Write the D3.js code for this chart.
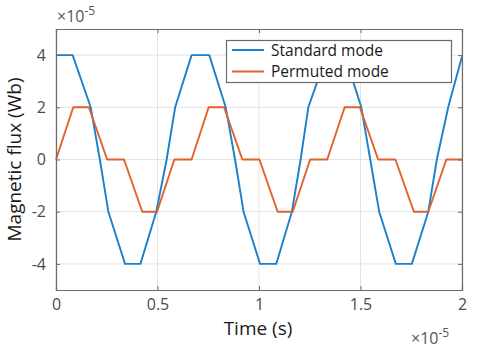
<!DOCTYPE html>
<html>
<head>
<meta charset="utf-8">
<script src="https://cdn.jsdelivr.net/npm/d3@7"></script>
<style>
html,body{margin:0;padding:0;background:#fff;}
svg{display:block;font-family:"Open Sans",sans-serif;}
</style>
</head>
<body>
<svg id="chart" width="480" height="351"></svg>
<script>
// Time (×1e-5 s) and flux (×1e-5 Wb) vertices
const standardTime = [0,0.082,0.171,0.216,0.258,0.340,0.416,0.494,0.545,0.587,0.668,0.755,0.836,0.882,0.924,1.005,1.085,1.162,1.205,1.243,1.333,1.422,1.504,1.548,1.592,1.674,1.753,1.834,1.876,1.932,2.0];
const standardFlux = [4,4,2,0,-2,-4,-4,-2,0,2,4,4,2,0,-2,-4,-4,-2,0,2,4,4,2,0,-2,-4,-4,-2,0,2,3.95];
const permutedTime = [0,0.085,0.162,0.252,0.335,0.425,0.498,0.583,0.668,0.752,0.828,0.918,1.002,1.092,1.166,1.252,1.336,1.422,1.497,1.587,1.672,1.763,1.834,1.923,2.0];
const permutedFlux = [0,2,2,0,0,-2,-2,0,0,2,2,0,0,-2,-2,0,0,2,2,0,0,-2,-2,0,0];
const xTicks = [0,0.5,1,1.5,2];
const xTickLabels = ["0","0.5","1","1.5","2"];
const yTicks = [-4,-2,0,2,4];
const yTickLabels = ["-4","-2","0","2","4"];
const seriesNames = ["Standard mode","Permuted mode"];
const seriesColors = ["#1a80cc","#e0622a"];

const svg = d3.select("#chart");
const L = 56, R = 462, T = 29, B = 290;
const x = d3.scaleLinear().domain([0,2]).range([L,R]);
const y = d3.scaleLinear().domain([-5,5]).range([B,T]);

// grid
const g = svg.append("g");
g.selectAll(".gx").data(xTicks).enter().append("line")
  .attr("x1",d=>x(d)).attr("x2",d=>x(d)).attr("y1",T).attr("y2",B)
  .attr("stroke","#e3e3e3").attr("stroke-width",1);
g.selectAll(".gy").data(yTicks).enter().append("line")
  .attr("y1",d=>y(d)).attr("y2",d=>y(d)).attr("x1",L).attr("x2",R)
  .attr("stroke","#e3e3e3").attr("stroke-width",1);

// series
const series = [
  standardTime.map((t,i)=>[t,standardFlux[i]]),
  permutedTime.map((t,i)=>[t,permutedFlux[i]])
];
const line = d3.line().x(d=>x(d[0])).y(d=>y(d[1]));
series.forEach((s,i)=>{
  svg.append("path").datum(s).attr("d",line)
    .attr("fill","none").attr("stroke",seriesColors[i]).attr("stroke-width",1.9)
    .attr("stroke-linejoin","round");
});

// axes
const axColor = "#6b6b6b";
const xAxis = svg.append("g").attr("transform",`translate(0,${B})`)
  .call(d3.axisBottom(x).tickValues(xTicks).tickFormat((d,i)=>xTickLabels[i]).tickSize(-4).tickPadding(9));
const xAxisTop = svg.append("g").attr("transform",`translate(0,${T})`)
  .call(d3.axisTop(x).tickValues(xTicks).tickFormat("").tickSize(-4));
const yAxis = svg.append("g").attr("transform",`translate(${L},0)`)
  .call(d3.axisLeft(y).tickValues(yTicks).tickFormat((d,i)=>yTickLabels[i]).tickSize(-4).tickPadding(10));
const yAxisR = svg.append("g").attr("transform",`translate(${R},0)`)
  .call(d3.axisRight(y).tickValues(yTicks).tickFormat("").tickSize(-4));
[xAxis,xAxisTop,yAxis,yAxisR].forEach(a=>{
  a.select(".domain").attr("stroke",axColor).attr("stroke-width",1.2);
  a.selectAll(".tick line").attr("stroke",axColor);
  a.selectAll(".tick text").attr("fill","#4a4a4a").attr("font-size",16).attr("font-family","Open Sans, sans-serif");
});

// exponent labels
function expLabel(xp, yp){
  const t = svg.append("text").attr("x",xp).attr("y",yp).attr("fill","#555").attr("font-size",16);
  t.append("tspan").text("×10");
  t.append("tspan").attr("dy",-7).attr("font-size",12).text("-5");
}
expLabel(57,22);
expLabel(411,344);

// axis titles
svg.append("text").attr("x",(L+R)/2-1).attr("y",335).attr("text-anchor","middle")
  .attr("font-size",19).attr("fill","#1a1a1a").text("Time (s)");
svg.append("text").attr("transform",`translate(21,${(T+B)/2}) rotate(-90)`)
  .attr("text-anchor","middle").attr("font-size",19).attr("fill","#1a1a1a").text("Magnetic flux (Wb)");

// legend
const lg = svg.append("g");
lg.append("rect").attr("x",226.5).attr("y",40.5).attr("width",225).attr("height",42)
  .attr("fill","#fff").attr("stroke","#6b6b6b").attr("stroke-width",1.2);
seriesNames.forEach((n,i)=>{
  const yy = 50 + i*21.5;
  lg.append("line").attr("x1",232).attr("x2",264).attr("y1",yy).attr("y2",yy)
    .attr("stroke",seriesColors[i]).attr("stroke-width",2);
  lg.append("text").attr("x",271).attr("y",yy+5.5).attr("font-size",15.5).attr("fill","#1a1a1a").text(n);
});
</script>
</body>
</html>
